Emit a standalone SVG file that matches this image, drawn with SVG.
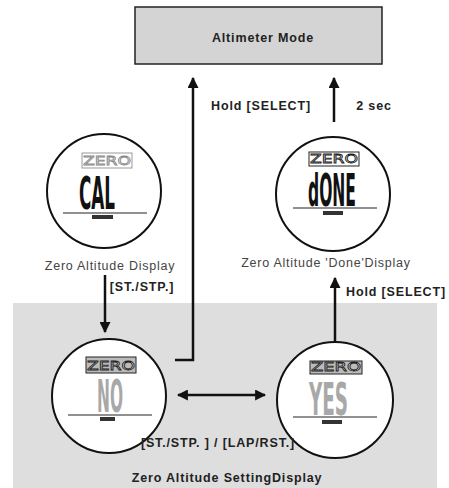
<svg xmlns="http://www.w3.org/2000/svg" width="449" height="488" viewBox="0 0 449 488">
<defs>
<style>
.lbl{font-family:"Liberation Sans",Arial,sans-serif;font-weight:bold;font-size:12.5px;fill:#222;letter-spacing:0.85px}
.cap{font-family:"Liberation Sans",Arial,sans-serif;font-size:12.5px;fill:#444;letter-spacing:0.75px}
.dial{fill:#fff;stroke:#111;stroke-width:2}
.lcd{font-family:"DejaVu Sans",sans-serif;font-weight:bold;font-size:44px}
.zero{font-family:"DejaVu Sans",sans-serif;font-size:13px}
.ln{stroke:#111;stroke-width:2.5;fill:none}
</style>
<marker id="ah" viewBox="0 0 10 10" refX="9" refY="5" markerWidth="4.4" markerHeight="4.4" markerUnits="strokeWidth" orient="auto-start-reverse">
<path d="M0,0 L10,5 L0,10 z" fill="#111"/>
</marker>
</defs>
<rect width="449" height="488" fill="#fff"/>
<rect id="setting-panel" x="13" y="303" width="424" height="185" fill="#dedede"/>

<g id="altimeter-mode">
<rect x="135" y="7" width="247" height="57" fill="#d4d4d4" stroke="#222" stroke-width="1.5"/>
<text class="lbl" x="263" y="42" text-anchor="middle">Altimeter Mode</text>
</g>

<g id="cal-display">
<circle class="dial" cx="104" cy="191" r="57"/>
<rect x="82" y="153" width="50" height="15" fill="none" stroke="#999" stroke-width="1"/>
<text class="zero" x="83" y="165" textLength="48" lengthAdjust="spacingAndGlyphs" fill="#fff" stroke="#888" stroke-width="0.8">ZERO</text>
<text class="lcd" x="79" y="209" textLength="36" lengthAdjust="spacingAndGlyphs" fill="#111">CAL</text>
<line x1="63" y1="213" x2="147" y2="213" stroke="#222" stroke-width="1"/>
<rect x="92" y="215" width="21" height="4" fill="#333"/>
<text class="cap" x="110" y="270" text-anchor="middle">Zero Altitude Display</text>
</g>

<g id="done-display">
<circle class="dial" cx="333" cy="194" r="57"/>
<rect x="309" y="152" width="50" height="14" fill="none" stroke="#222" stroke-width="1"/>
<text class="zero" x="310" y="163" textLength="48" lengthAdjust="spacingAndGlyphs" fill="#fff" stroke="#222" stroke-width="0.8">ZERO</text>
<text class="lcd" x="308" y="206" font-size="40" textLength="48" lengthAdjust="spacingAndGlyphs" fill="#111">dONE</text>
<line x1="293" y1="208" x2="377" y2="208" stroke="#222" stroke-width="1"/>
<rect x="323" y="211" width="20" height="4" fill="#333"/>
<text class="cap" x="326" y="267" text-anchor="middle">Zero Altitude 'Done'Display</text>
</g>

<g id="no-display">
<circle class="dial" cx="109" cy="396" r="57"/>
<rect x="86" y="357" width="50" height="16" fill="#bbb" stroke="#222" stroke-width="1"/>
<text class="zero" x="87" y="370" textLength="48" lengthAdjust="spacingAndGlyphs" fill="#fff" stroke="#222" stroke-width="0.8">ZERO</text>
<text class="lcd" x="97" y="412" textLength="26" lengthAdjust="spacingAndGlyphs" fill="#a8a8a8">NO</text>
<line x1="68" y1="415" x2="152" y2="415" stroke="#222" stroke-width="1"/>
<rect x="100" y="417" width="15" height="4" fill="#333"/>
</g>

<g id="yes-display">
<circle class="dial" cx="335" cy="400" r="58"/>
<rect x="310" y="361" width="52" height="13" fill="#bbb" stroke="#222" stroke-width="1"/>
<text class="zero" x="311" y="371" textLength="50" lengthAdjust="spacingAndGlyphs" fill="#fff" stroke="#222" stroke-width="0.8">ZERO</text>
<text class="lcd" x="309" y="415" font-size="39" textLength="39" lengthAdjust="spacingAndGlyphs" fill="#a8a8a8">YES</text>
<line x1="293" y1="417" x2="377" y2="417" stroke="#222" stroke-width="1"/>
<rect x="322" y="420" width="20" height="4" fill="#333"/>
</g>

<g id="connectors">
<polyline class="ln" points="175,360 193,360 193,78" marker-end="url(#ah)"/>
<line class="ln" x1="334" y1="122" x2="334" y2="78" marker-end="url(#ah)"/>
<line class="ln" x1="105" y1="275" x2="105" y2="332" marker-end="url(#ah)"/>
<line class="ln" x1="335" y1="342" x2="335" y2="278" marker-end="url(#ah)"/>
<line class="ln" x1="178" y1="395" x2="265" y2="395" marker-start="url(#ah)" marker-end="url(#ah)"/>
</g>

<g id="labels">
<text class="lbl" x="261" y="110" text-anchor="middle">Hold [SELECT]</text>
<text class="lbl" x="374" y="110" text-anchor="middle">2 sec</text>
<text class="lbl" x="142" y="291" text-anchor="middle">[ST./STP.]</text>
<text class="lbl" x="396" y="296" text-anchor="middle">Hold [SELECT]</text>
<text class="lbl" x="218" y="447" text-anchor="middle">[ST./STP. ] / [LAP/RST.]</text>
<text class="lbl" x="227" y="482" text-anchor="middle">Zero Altitude SettingDisplay</text>
</g>
</svg>
